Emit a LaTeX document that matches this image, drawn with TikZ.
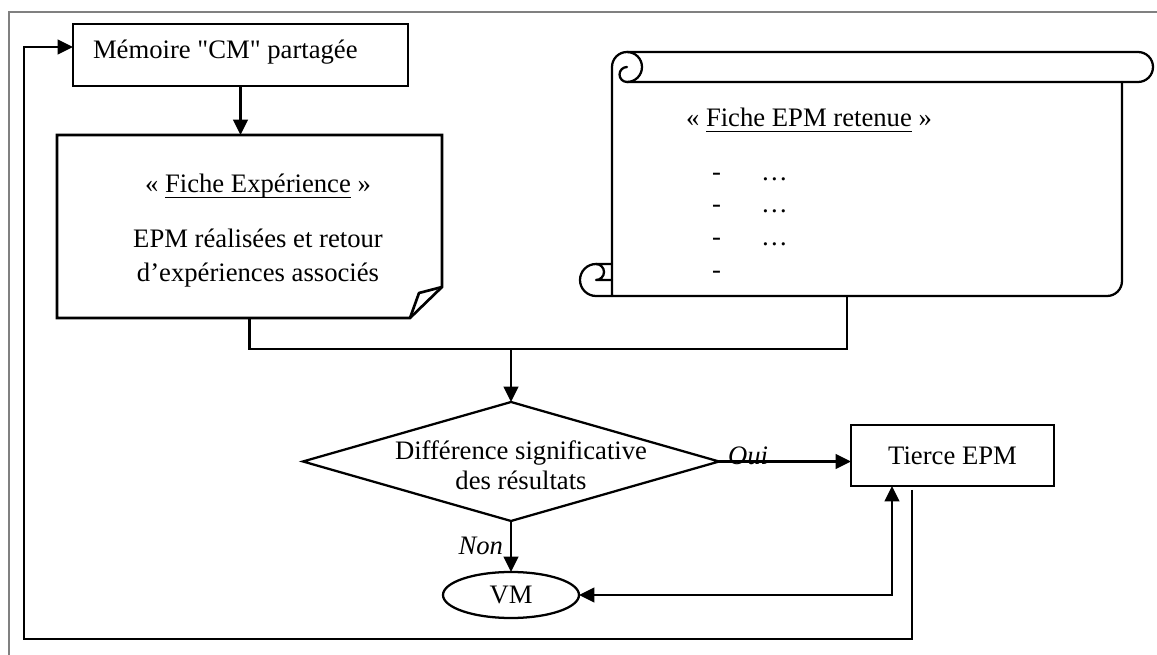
\documentclass[tikz,border=0pt]{standalone}
\usepackage{fontspec}
\setmainfont{Liberation Serif}[Ligatures=TeXOff]
\usetikzlibrary{arrows.meta,shapes.geometric,calc}
\newcommand\myul[1]{\setbox0\hbox{#1}\rlap{\rule[-3.6pt]{\wd0}{0.9pt}}\box0\relax}
\begin{document}
\begin{tikzpicture}[x=0.75pt,y=-0.75pt,
  font=\fontsize{20}{24}\selectfont,
  every node/.style={inner sep=0pt, outer sep=0pt},
  ln/.style={line width=1.7pt},
  arr/.style={ln,-{Triangle[length=11.5pt,width=11pt]}},
  dbl/.style={ln,{Triangle[length=11.5pt,width=11pt]}-{Triangle[length=11.5pt,width=11pt]}},
  thinbox/.style={draw,line width=1pt,rectangle},
  ghost/.style={rectangle,draw=none},
  txt/.style={anchor=base},
  lbl/.style={font=\fontsize{20}{24}\selectfont\itshape},
]
\useasboundingbox (0,0) rectangle (1157,655);
% frame
\draw[line width=0.8pt,black!50] (9,655) -- (9,12) -- (1157,12);

% Memoire
\node[thinbox,minimum width=251.25pt,minimum height=46.5pt] (mem) at (240.5,55) {};
\node[anchor=base west] (memt) at (93,59) {Mémoire "CM" partagée};

% Fiche experience (document shape)
\node[ghost,minimum width=288.75pt,minimum height=137.25pt] (fiche) at (249.5,226.5) {};
\draw[line width=2pt] (fiche.north west) -- (fiche.north east) -- ($(fiche.south east)+(0,-31)$) -- ($(fiche.south east)+(-32,0)$) -- (fiche.south west) -- cycle;
\draw[line width=2pt,line join=round] ($(fiche.south east)+(-32,0)$) -- ($(fiche.south east)+(-23,-25)$) -- ($(fiche.south east)+(0,-31)$);
\node[txt] (f1) at (258,193) {« \myul{Fiche Expérience} »};
\node[txt] (f2) at (258,248) {EPM réalisées et retour};
\node[txt] (f3) at (258,282) {d’expériences associés};

% Scroll
\begin{scope}[line width=1.7pt, line join=round, line cap=round]
\draw (612,67) arc[start angle=180,end angle=270,radius=15] -- (1138,52) arc[start angle=270,end angle=450,radius=15] -- (627,82);
\draw (627,52) arc[start angle=270,end angle=450,radius=15] arc[start angle=90,end angle=270,radius=7.5];
\draw (612,67) -- (612,296) -- (1107,296) arc[start angle=90,end angle=0,radius=15] -- (1122,82);
\draw (612,264) -- (596,264) arc[start angle=270,end angle=90,radius=16] -- (612,296);
\draw (596,264) arc[start angle=270,end angle=450,radius=8] -- (612,280);
\end{scope}
\coordinate (sb) at (847,296);
\node[anchor=base west] (st) at (686,127) {« \myul{Fiche EPM retenue} »};
\node[anchor=base west] (s1) at (712,181) {-};
\node[anchor=base west] (s2) at (712,213) {-};
\node[anchor=base west] (s3) at (712,246) {-};
\node[anchor=base west] (s4) at (712,279) {-};
\node[anchor=base west] (e1) at (761,181) {…};
\node[anchor=base west] (e2) at (761,213) {…};
\node[anchor=base west] (e3) at (761,246) {…};

% Diamond
\node[ghost,minimum width=312pt,minimum height=89.25pt] (dia) at (511,461.5) {};
\draw[ln] (dia.north) -- (dia.east) -- (dia.south) -- (dia.west) -- cycle;
\node[txt] (dt1) at (521,460) {Différence significative};
\node[txt] (dt2) at (521,490) {des résultats};

% Tierce EPM
\node[thinbox,minimum width=152.25pt,minimum height=45.75pt] (tierce) at (952.5,455.5) {Tierce EPM};

% VM
\node[draw,ellipse,ln,minimum width=102pt,minimum height=34.5pt] (vm) at (511,595) {VM};

% connectors
\coordinate (jl) at (249.5,349);
\coordinate (jr) at (847,349);
\coordinate (jm) at (511,349);
\draw[ln] (fiche.south) -- (jl) -- (jr) -- (sb);
\draw[arr] (jm) -- (dia.north);
\draw[arr] (mem.south) -- (mem.south |- fiche.north);
\draw[arr] (dia.east) -- (dia.east -| tierce.west);
\node[anchor=base west,lbl] (oui) at (728,465) {Oui};
\draw[arr] (dia.south) -- (vm.north);
\node[anchor=base east,lbl] (non) at (503,555) {Non};
\coordinate (vt) at (892,595);
\draw[dbl] (vm.east) -- (vt) -- (vt |- tierce.south);
\coordinate (r0) at (912,490);
\coordinate (r1) at (912,639);
\coordinate (r2) at (24,639);
\coordinate (r3) at (24,47);
\draw[arr] (r0) -- (r1) -- (r2) -- (r3) -- (mem.west |- r3);
\end{tikzpicture}
\end{document}
